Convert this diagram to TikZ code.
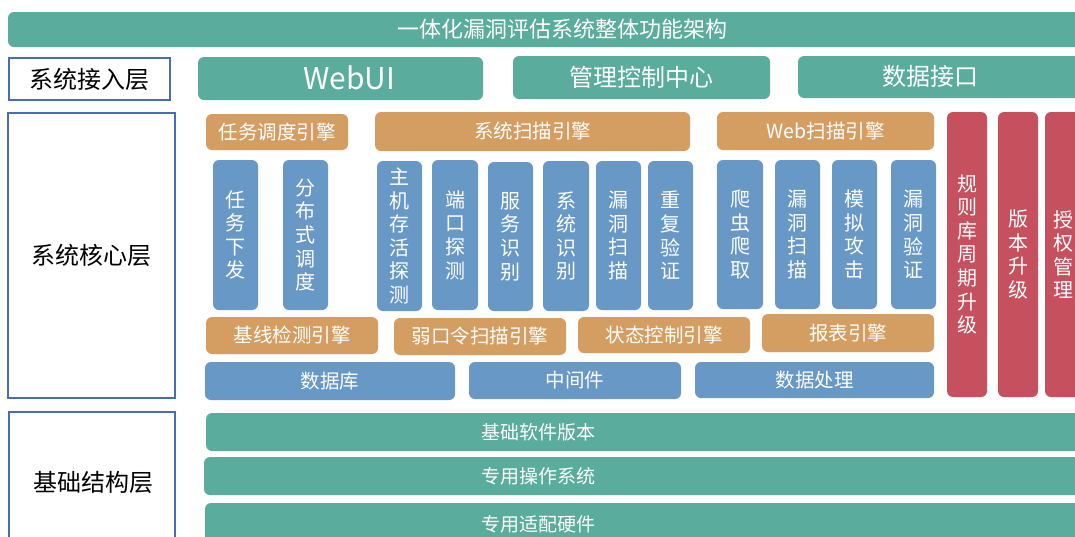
\documentclass[tikz,border=0pt]{standalone}
\usepackage{fontspec}
\newfontfamily\cjk{Noto Sans CJK SC}
\definecolor{cteal}{HTML}{5AAC9C}
\definecolor{corange}{HTML}{D49E62}
\definecolor{cblue}{HTML}{6898C6}
\definecolor{cred}{HTML}{C6505E}
\definecolor{cframe}{HTML}{4A6CB0}
\tikzset{
  boxbase/.style={rounded corners=6pt, inner sep=0pt, text=white, draw=none},
  tealbox/.style={boxbase, fill=cteal},
  orangebox/.style={boxbase, fill=corange, font=\cjk\fontsize{19.5}{22}\selectfont},
  bluebox/.style={boxbase, fill=cblue, font=\cjk\fontsize{19.5}{22}\selectfont},
  vbluebox/.style={boxbase, fill=cblue, align=center, font=\cjk\fontsize{20}{23.6}\selectfont},
  vredbox/.style={boxbase, fill=cred, align=center, font=\cjk\fontsize{20}{23.6}\selectfont},
  layerbox/.style={draw=cframe, line width=1.1pt, fill=white, inner sep=0pt, text=black, font=\cjk\fontsize{24}{28}\selectfont},
  lbl/.style={inner sep=0pt, text=white},
}
\begin{document}
\begin{tikzpicture}[x=1pt,y=-1pt]
\clip (0,0) rectangle (1075,536);
\fill[white] (0,0) rectangle (1075,536);
% title
\node[tealbox, minimum width=1108pt, minimum height=35pt, font=\cjk\fontsize{22}{25}\selectfont] (title) at (562,29.5) {一体化漏洞评估系统整体功能架构};
% access layer
\node[layerbox, minimum width=161pt, minimum height=42pt] (acc) at (89.5,79) {系统接入层};
\node[tealbox, minimum width=285pt, minimum height=43pt] (webui) at (340.5,78.5) {};
\node[lbl, font=\cjk\fontsize{30}{33}\selectfont] (webuitext) at (349,77.5) {WebUI};
\node[tealbox, minimum width=257pt, minimum height=43pt, font=\cjk\fontsize{24}{28}\selectfont] (mgmt) at (641.5,77.5) {管理控制中心};
\node[tealbox, minimum width=302pt, minimum height=42pt] (dataif) at (949,77) {};
\node[lbl, font=\cjk\fontsize{24}{28}\selectfont] (dataiftext) at (930,76) {数据接口};
% core layer
\node[layerbox, minimum width=167pt, minimum height=285pt] (core) at (91.5,255.5) {系统核心层};
\node[orangebox, minimum width=142pt, minimum height=36pt] (taskeng) at (277,132) {任务调度引擎};
\node[vbluebox, minimum width=45pt, minimum height=150pt] (taskdown) at (235.5,235) {任\\务\\下\\发};
\node[vbluebox, minimum width=45pt, minimum height=150pt] (distrib) at (305.5,235) {分\\布\\式\\调\\度};
\node[orangebox, minimum width=172pt, minimum height=37pt] (baseline) at (292,335.5) {基线检测引擎};
\node[bluebox, minimum width=250pt, minimum height=38pt] (db) at (330,381) {数据库};
\node[orangebox, minimum width=315pt, minimum height=39pt] (sysscan) at (532.5,131.5) {系统扫描引擎};
\node[vbluebox, minimum width=45pt, minimum height=150pt] (host) at (399.5,236) {主\\机\\存\\活\\探\\测};
\node[vbluebox, minimum width=46pt, minimum height=150pt] (port) at (455,235) {端\\口\\探\\测};
\node[vbluebox, minimum width=45pt, minimum height=149pt] (svc) at (510.5,236.5) {服\\务\\识\\别};
\node[vbluebox, minimum width=46pt, minimum height=150pt] (sysid) at (566,236) {系\\统\\识\\别};
\node[vbluebox, minimum width=45pt, minimum height=149pt] (vulnscan) at (618.5,235.5) {漏\\洞\\扫\\描};
\node[vbluebox, minimum width=45pt, minimum height=149pt] (reverify) at (670.5,235.5) {重\\复\\验\\证};
\node[orangebox, minimum width=172pt, minimum height=37pt] (weakpw) at (480,336.5) {弱口令扫描引擎};
\node[orangebox, minimum width=172pt, minimum height=36pt] (state) at (664,335) {状态控制引擎};
\node[bluebox, minimum width=212pt, minimum height=37pt] (mid) at (575,380.5) {中间件};
\node[orangebox, minimum width=217pt, minimum height=38pt] (webscan) at (825.5,131) {Web扫描引擎};
\node[vbluebox, minimum width=46pt, minimum height=149pt] (crawl) at (740,234.5) {爬\\虫\\爬\\取};
\node[vbluebox, minimum width=45pt, minimum height=149pt] (wvuln) at (797.5,234.5) {漏\\洞\\扫\\描};
\node[vbluebox, minimum width=45pt, minimum height=149pt] (attack) at (854.5,234.5) {模\\拟\\攻\\击};
\node[vbluebox, minimum width=45pt, minimum height=149pt] (wverify) at (913.5,234.5) {漏\\洞\\验\\证};
\node[orangebox, minimum width=172pt, minimum height=38pt] (report) at (848,333) {报表引擎};
\node[bluebox, minimum width=239pt, minimum height=36pt] (dataproc) at (814.5,380) {数据处理};
\node[vredbox, minimum width=40pt, minimum height=285pt] (rules) at (967,254.5) {规\\则\\库\\周\\期\\升\\级};
\node[vredbox, minimum width=40pt, minimum height=285pt] (upgrade) at (1018,254.5) {版\\本\\升\\级};
\node[vredbox, minimum width=36pt, minimum height=285pt] (auth) at (1063,254.5) {授\\权\\管\\理};
% base layer
\node[layerbox, minimum width=166pt, minimum height=148pt] (baselayer) at (92,486) {};
\node[inner sep=0pt, text=black, font=\cjk\fontsize{24}{28}\selectfont] (baselayertext) at (93,482) {基础结构层};
\node[tealbox, minimum width=894pt, minimum height=38pt] (basesw) at (653,432) {};
\node[lbl, font=\cjk\fontsize{19}{22}\selectfont] (baseswtext) at (538,432) {基础软件版本};
\node[tealbox, minimum width=896pt, minimum height=38pt] (os) at (652,476) {};
\node[lbl, font=\cjk\fontsize{19}{22}\selectfont] (ostext) at (538,476) {专用操作系统};
\node[tealbox, minimum width=895pt, minimum height=44pt] (hw) at (652.5,525) {};
\node[lbl, font=\cjk\fontsize{19}{22}\selectfont] (hwtext) at (538,524) {专用适配硬件};
\end{tikzpicture}
\end{document}
